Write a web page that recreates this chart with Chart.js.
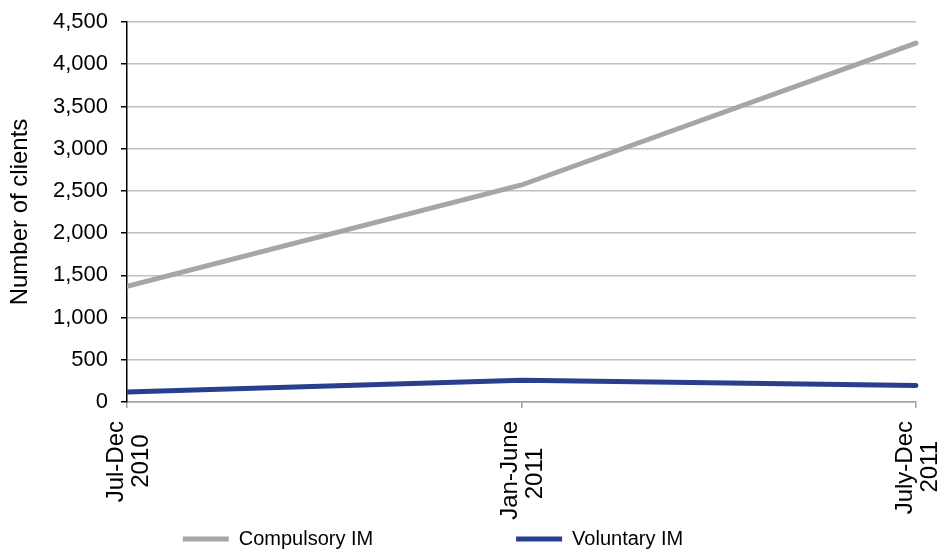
<!DOCTYPE html>
<html><head><meta charset="utf-8">
<script src="https://cdn.jsdelivr.net/npm/chart.js@4/dist/chart.umd.min.js"></script>
<style>html,body{margin:0;padding:0;background:#fff}#wrap{width:942px;height:556px;position:relative}</style>
</head><body><div id="wrap"><canvas id="c" width="942" height="556"></canvas></div>
<script>
const categoryLines = [['Jul-Dec', '2010'], ['Jan-June', '2011'], ['July-Dec', '2011']];
const compulsoryIM = [1370, 2570, 4250];
const voluntaryIM = [118, 258, 195];
const seriesNames = ['Compulsory IM', 'Voluntary IM'];
const yMin = 0, yMax = 4500, yStep = 500;
const yTitle = 'Number of clients';

const FAMILY = "'Liberation Sans', Arial, sans-serif";
const X_FONT = 24, Y_FONT = 22, LEG_FONT = 20, TITLE_FONT = 24;
const LEG_BOX = 46, LEG_PAD = 4;
const mctx = document.createElement('canvas').getContext('2d');
function tw(t, size) { mctx.font = size + 'px ' + FAMILY; return mctx.measureText(t).width; }

function centeredLines(lines) {
  const widths = lines.map(l => tw(l, X_FONT));
  const maxW = Math.max(...widths);
  const sp = tw(' ', X_FONT);
  return lines.map((l, i) => l + ' '.repeat(Math.round((maxW - widths[i]) / 2 / sp)));
}

Chart.defaults.font.family = FAMILY;
Chart.defaults.color = '#000';

const legendShift = {
  id: 'legendShift',
  afterLayout(chart) {
    if (chart.legend) { chart.legend.top += 3; chart.legend.bottom += 3; }
  }
};

new Chart(document.getElementById('c'), {
  type: 'line',
  data: {
    labels: categoryLines,
    datasets: [
      { label: seriesNames[0], data: compulsoryIM, borderColor: '#a6a6a6', backgroundColor: '#a6a6a6',
        borderWidth: 5, pointRadius: 0, tension: 0, borderCapStyle: 'round', clip: {left: 0, right: 6, top: 6, bottom: 6} },
      { label: seriesNames[1], data: voluntaryIM, borderColor: '#283e8e', backgroundColor: '#283e8e',
        borderWidth: 5, pointRadius: 0, tension: 0, borderCapStyle: 'round', clip: {left: 0, right: 6, top: 6, bottom: 6} }
    ]
  },
  plugins: [legendShift],
  options: {
    responsive: false,
    animation: false,
    layout: { padding: { left: 0, right: 26, top: 22, bottom: 0 } },
    plugins: {
      tooltip: { enabled: false },
      legend: {
        position: 'bottom',
        labels: {
          boxWidth: LEG_BOX, boxHeight: 5, padding: LEG_PAD,
          font: { size: LEG_FONT },
          color: '#000',
          generateLabels(chart) {
            const items = Chart.defaults.plugins.legend.labels.generateLabels(chart);
            const sp = tw(' ', LEG_FONT);
            items.forEach((it, i) => {
              it.fillStyle = it.strokeStyle; it.lineWidth = 0;
              if (i === 0) {
                const need = 332 - LEG_BOX - LEG_FONT / 2 - tw(it.text, LEG_FONT) - LEG_PAD;
                it.text = it.text + ' '.repeat(Math.max(0, Math.round(need / sp)));
              } else {
                it.text = it.text + ' '.repeat(Math.round(50 / sp));
              }
            });
            return items;
          }
        }
      }
    },
    scales: {
      x: {
        type: 'category',
        offset: false,
        border: { color: '#a0a0a0', width: 1.5 },
        grid: { drawOnChartArea: false, drawTicks: true, tickLength: 6, tickColor: '#a0a0a0', lineWidth: 1.5 },
        ticks: {
          autoSkip: false, minRotation: 90, maxRotation: 90, padding: 13, labelOffset: -11,
          font: { size: X_FONT, lineHeight: 1.05 }, color: '#000',
          callback(v, i) { return centeredLines(categoryLines[i]); }
        },
        afterFit(scale) { scale.height = 120; scale.paddingRight = 0; scale.paddingLeft = 0; }
      },
      y: {
        min: yMin, max: yMax,
        border: { color: '#000', width: 1.5 },
        grid: { color: '#c0c0c0', lineWidth: 1.5, tickLength: 6, tickColor: '#000' },
        ticks: { stepSize: yStep, padding: 13, font: { size: Y_FONT }, color: '#000',
          callback(v) { return Number(v).toLocaleString('en-US'); } },
        title: { display: true, text: yTitle, font: { size: TITLE_FONT }, color: '#000', padding: { top: 6, bottom: 0 } },
        afterFit(scale) { scale.width = 127; scale.paddingTop = 0; scale.paddingBottom = 0; }
      }
    }
  }
});
</script>
</body></html>
